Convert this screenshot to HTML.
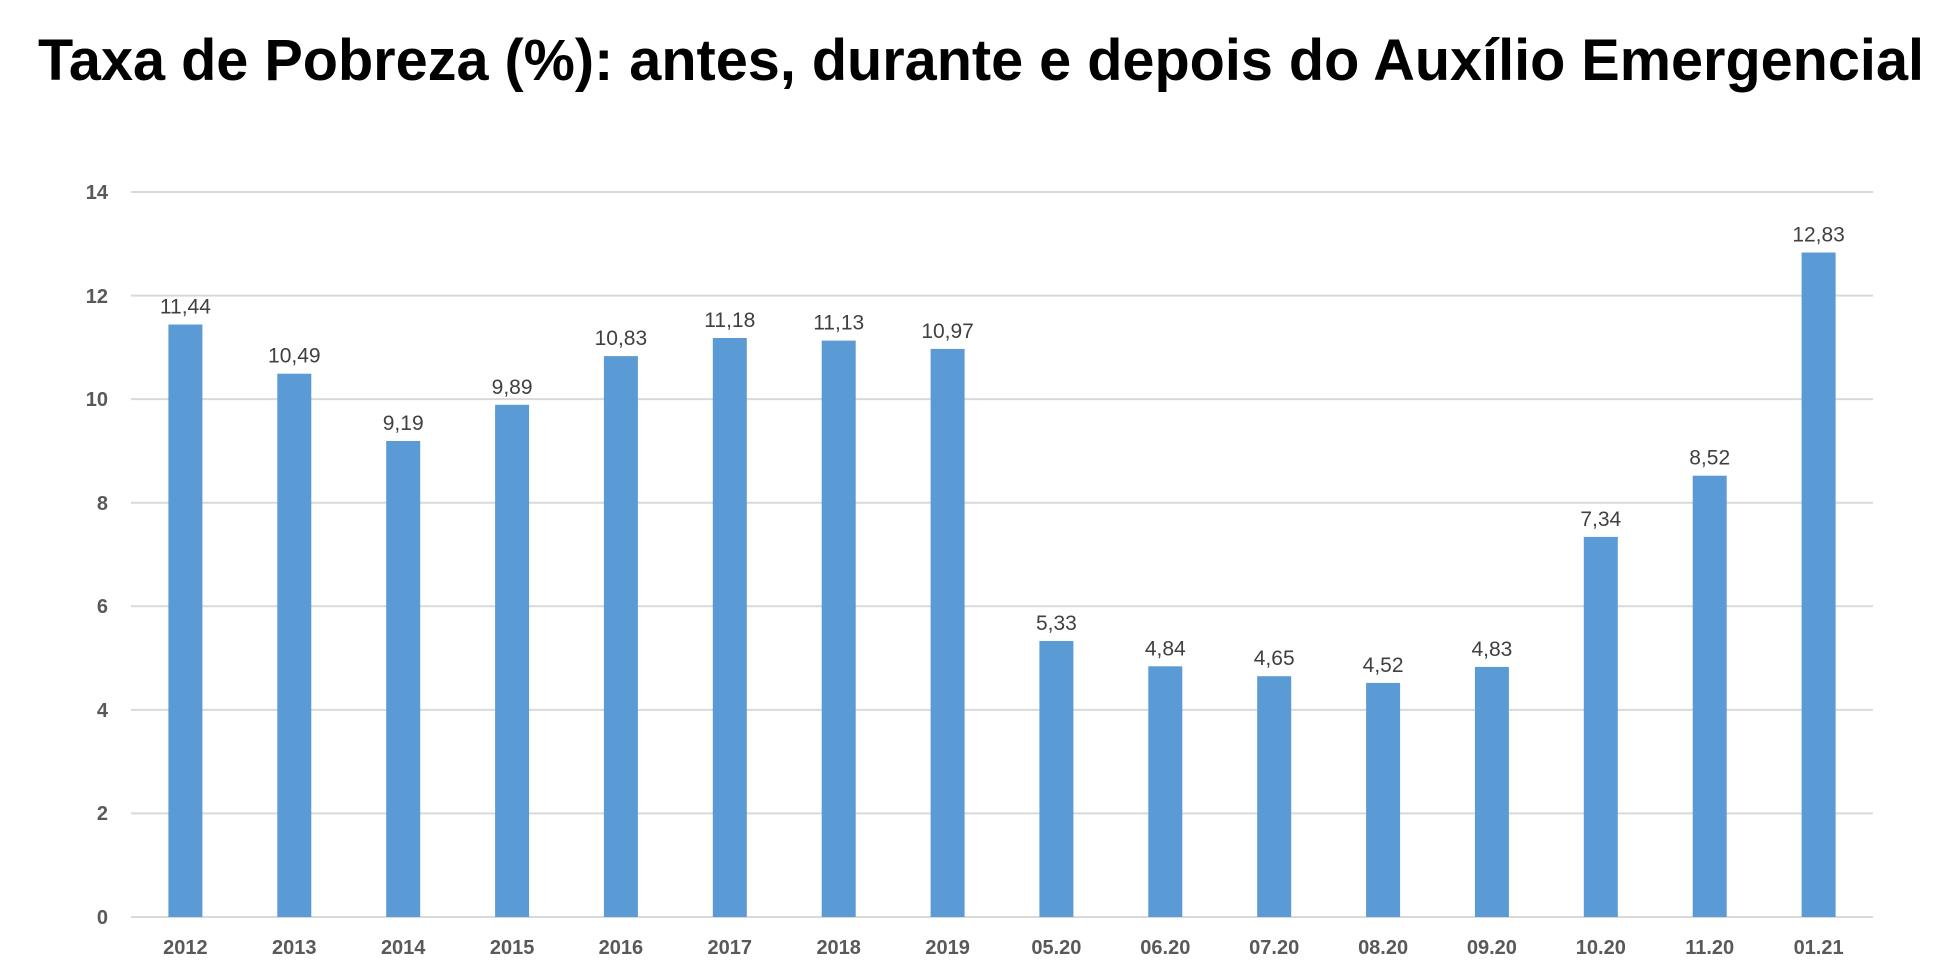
<!DOCTYPE html>
<html><head><meta charset="utf-8"><style>html,body{margin:0;padding:0;background:#fff}</style></head>
<body>
<svg width="1956" height="969" xmlns="http://www.w3.org/2000/svg" font-family="Liberation Sans, sans-serif">
<text x="981" y="80" text-anchor="middle" font-size="58" font-weight="bold" fill="#000" textLength="1886" lengthAdjust="spacingAndGlyphs">Taxa de Pobreza (%): antes, durante e depois do Auxílio Emergencial</text>
<g stroke="#d9d9d9" stroke-width="2">
<line x1="131" x2="1873" y1="192" y2="192"/><line x1="131" x2="1873" y1="295.6" y2="295.6"/><line x1="131" x2="1873" y1="399.1" y2="399.1"/><line x1="131" x2="1873" y1="502.7" y2="502.7"/><line x1="131" x2="1873" y1="606.3" y2="606.3"/><line x1="131" x2="1873" y1="709.9" y2="709.9"/><line x1="131" x2="1873" y1="813.4" y2="813.4"/><line x1="131" x2="1873" y1="917" y2="917"/>
</g>
<g font-size="20" font-weight="bold" fill="#595959" text-anchor="end">
<text x="108" y="199">14</text><text x="108" y="303">12</text><text x="108" y="406">10</text><text x="108" y="510">8</text><text x="108" y="613">6</text><text x="108" y="717">4</text><text x="108" y="820">2</text><text x="108" y="924">0</text>
</g>
<g fill="#5b9bd5">
<rect x="168.4" y="324.5" width="34" height="592.5"/>
<rect x="277.3" y="373.7" width="34" height="543.3"/>
<rect x="386.2" y="441.0" width="34" height="476.0"/>
<rect x="495.1" y="404.8" width="34" height="512.2"/>
<rect x="603.9" y="356.1" width="34" height="560.9"/>
<rect x="712.8" y="338.0" width="34" height="579.0"/>
<rect x="821.7" y="340.6" width="34" height="576.4"/>
<rect x="930.6" y="348.9" width="34" height="568.1"/>
<rect x="1039.4" y="641.0" width="34" height="276.0"/>
<rect x="1148.3" y="666.3" width="34" height="250.7"/>
<rect x="1257.2" y="676.2" width="34" height="240.8"/>
<rect x="1366.1" y="682.9" width="34" height="234.1"/>
<rect x="1474.9" y="666.9" width="34" height="250.1"/>
<rect x="1583.8" y="536.9" width="34" height="380.1"/>
<rect x="1692.7" y="475.7" width="34" height="441.3"/>
<rect x="1801.6" y="252.5" width="34" height="664.5"/>
</g>
<g font-size="21" fill="#404040" text-anchor="middle">
<text x="185.4" y="313.5">11,44</text>
<text x="294.3" y="362.7">10,49</text>
<text x="403.2" y="430">9,19</text>
<text x="512.1" y="393.8">9,89</text>
<text x="620.9" y="345.1">10,83</text>
<text x="729.8" y="327">11,18</text>
<text x="838.7" y="329.6">11,13</text>
<text x="947.6" y="337.9">10,97</text>
<text x="1056.4" y="630">5,33</text>
<text x="1165.3" y="655.3">4,84</text>
<text x="1274.2" y="665.2">4,65</text>
<text x="1383.1" y="671.9">4,52</text>
<text x="1491.9" y="655.9">4,83</text>
<text x="1600.8" y="525.9">7,34</text>
<text x="1709.7" y="464.7">8,52</text>
<text x="1818.6" y="241.5">12,83</text>
</g>
<g font-size="20" font-weight="bold" fill="#595959" text-anchor="middle">
<text x="185.4" y="954">2012</text>
<text x="294.3" y="954">2013</text>
<text x="403.2" y="954">2014</text>
<text x="512.1" y="954">2015</text>
<text x="620.9" y="954">2016</text>
<text x="729.8" y="954">2017</text>
<text x="838.7" y="954">2018</text>
<text x="947.6" y="954">2019</text>
<text x="1056.4" y="954">05.20</text>
<text x="1165.3" y="954">06.20</text>
<text x="1274.2" y="954">07.20</text>
<text x="1383.1" y="954">08.20</text>
<text x="1491.9" y="954">09.20</text>
<text x="1600.8" y="954">10.20</text>
<text x="1709.7" y="954">11.20</text>
<text x="1818.6" y="954">01.21</text>
</g>
</svg>
</body></html>
